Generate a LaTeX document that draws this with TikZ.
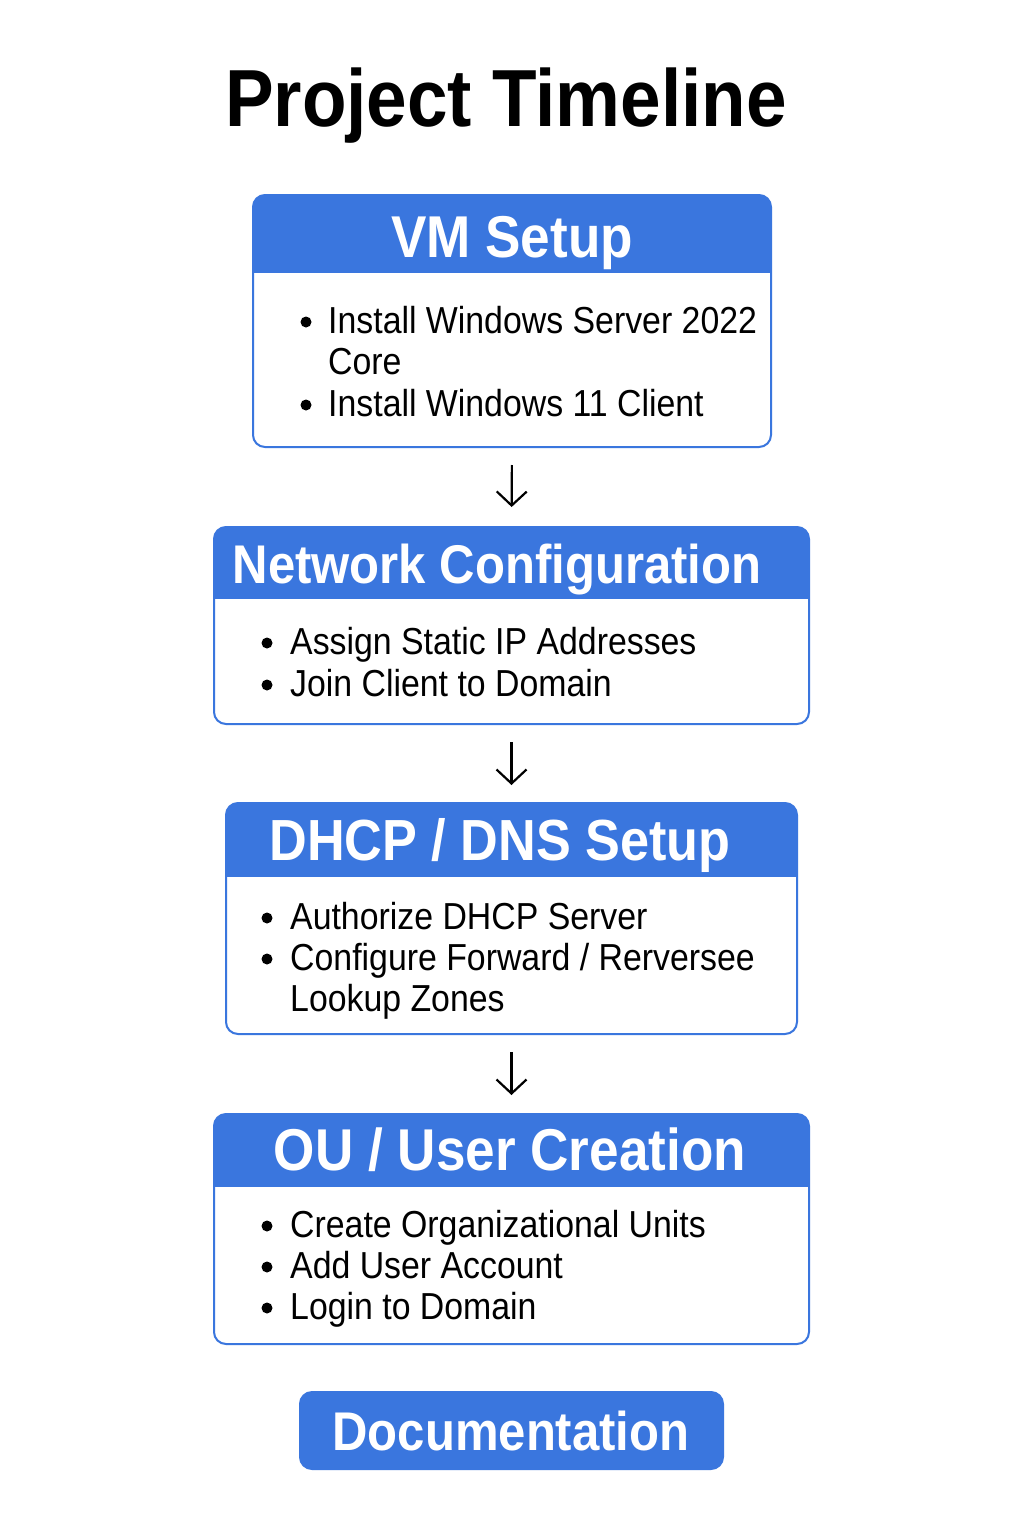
\documentclass[tikz,border=0pt]{standalone}
\usepackage{fontspec}
\setmainfont{Liberation Sans}[FakeStretch=0.9]
\usetikzlibrary{arrows.meta,fit}
\definecolor{hblue}{HTML}{3A76DE}
\tikzset{
  boxline/.style={draw=hblue, line width=2pt, rounded corners=12pt},
  hdrtext/.style={text=white, inner sep=0pt, anchor=base},
  itemtext/.style={font=\fontsize{37.6}{42}\selectfont, inner sep=0pt, anchor=base west},
  flowarrow/.style={line width=2.2pt, -{Straight Barb[length=14pt,width=30pt,line width=2.2pt]}},
}
\newcommand\phasebox[6]{%
  \node[fit={(#2,#3)(#4,#5)}, inner sep=0pt, outer sep=0pt] (#1) {};
  \begin{scope}
    \clip[rounded corners=12pt] (#1.north west) rectangle (#1.south east);
    \fill[hblue] (#2,#3) rectangle (#4,#6);
  \end{scope}
  \draw[boxline] (#1.north west) rectangle (#1.south east);
}
\newcommand\hdrsz[1]{\bfseries\fontsize{#1}{#1}\selectfont}
\begin{document}
\begin{tikzpicture}[x=1pt,y=-1pt]
\useasboundingbox (0,0) rectangle (1024,1536);
\fill[white] (0,0) rectangle (1024,1536);

\node[inner sep=0pt, anchor=base, font=\hdrsz{81}] (title) at (506,127) {Project Timeline};

% Box 1
\phasebox{b1}{253}{195}{771}{447}{273}
\node[hdrtext, font=\hdrsz{59}] (h1) at (512,257) {VM Setup};
\fill (306,322) circle (5.5pt);
\node[itemtext] (b1i1) at (328,333) {Install Windows Server 2022};
\node[itemtext] (b1i2) at (328,374) {Core};
\fill (306,405) circle (5.5pt);
\node[itemtext] (b1i3) at (328,416) {Install Windows 11 Client};

% Box 2
\phasebox{b2}{214}{527}{809}{724}{599}
\node[hdrtext, font=\hdrsz{54.5}] (h2) at (497,583) {Network Configuration};
\fill (267,643) circle (5.5pt);
\node[itemtext] (b2i1) at (290,654) {Assign Static IP Addresses};
\fill (267,685) circle (5.5pt);
\node[itemtext] (b2i2) at (290,696) {Join Client to Domain};

% Box 3
\phasebox{b3}{226}{803}{797}{1034}{877}
\node[hdrtext, font=\hdrsz{58}] (h3) at (500,860) {DHCP / DNS Setup};
\fill (267,918) circle (5.5pt);
\node[itemtext] (b3i1) at (290,929) {Authorize DHCP Server};
\fill (267,959) circle (5.5pt);
\node[itemtext] (b3i2) at (290,970) {Configure Forward / Rerversee};
\node[itemtext] (b3i3) at (290,1011) {Lookup Zones};

% Box 4
\phasebox{b4}{214}{1114}{809}{1344}{1187}
\node[hdrtext, font=\hdrsz{59}] (h4) at (510,1170) {OU / User Creation};
\fill (267,1226) circle (5.5pt);
\node[itemtext] (b4i1) at (290,1237) {Create Organizational Units};
\fill (267,1267) circle (5.5pt);
\node[itemtext] (b4i2) at (290,1278) {Add User Account};
\fill (267,1308) circle (5.5pt);
\node[itemtext] (b4i3) at (290,1319) {Login to Domain};

% Documentation
\node[fit={(300,1392)(723,1469)}, inner sep=0pt, outer sep=0pt, fill=hblue, draw=hblue, line width=2pt, rounded corners=12pt] (doc) {};
\node[hdrtext, font=\hdrsz{54.5}] (doctext) at (511,1450) {Documentation};

% Arrows
\draw[flowarrow, shorten <=18pt, shorten >=20pt] (b1.south) -- (b2.north);
\draw[flowarrow, shorten <=18pt, shorten >=18pt] (b2.south) -- (b3.north);
\draw[flowarrow, shorten <=18pt, shorten >=19pt] (b3.south) -- (b4.north);
\end{tikzpicture}
\end{document}
